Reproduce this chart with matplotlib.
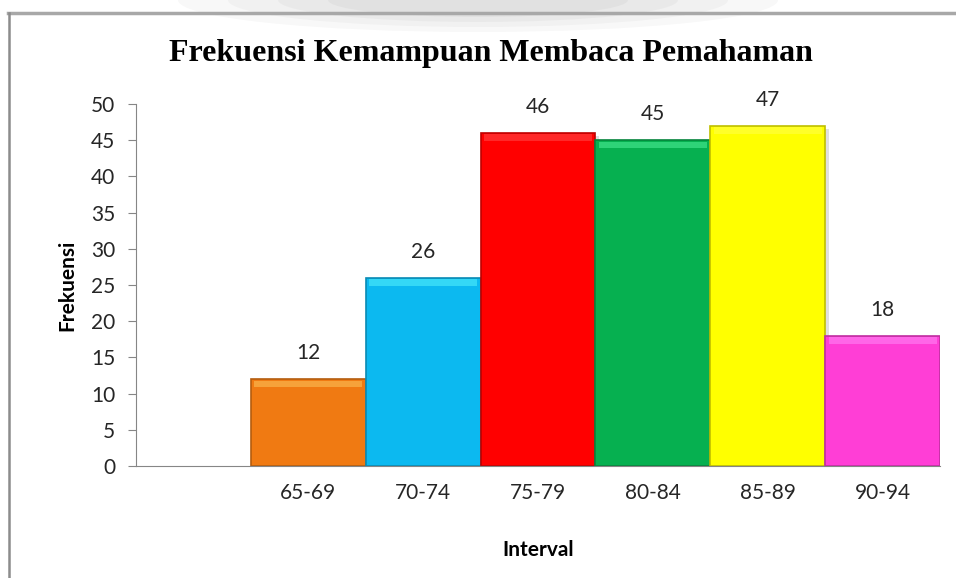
import matplotlib
matplotlib.use("Agg")
from matplotlib import pyplot
from matplotlib.patches import Ellipse
import matplotlib.colors as mcolors

# data
intervals = ['', '65-69', '70-74', '75-79', '80-84', '85-89', '90-94']
counts = [0, 12, 26, 46, 45, 47, 18]
bar_colors = ['#ffffff', '#f07a12', '#0cb9f0', '#ff0000', '#06b050', '#ffff00', '#ff3ed6']
y_ticks = list(range(0, 51, 5))

pyplot.rcParams['font.family'] = ['Lato', 'DejaVu Sans']

figure = pyplot.figure(figsize=(9.56, 5.78), dpi=100)
W, H = 956, 578

# faint grey glow behind the top border
for k, a in enumerate([0.06, 0.06, 0.07, 0.08]):
    figure.patches.append(Ellipse((478 / W, 1 - 0 / H), (600 - 100 * k) / W, (64 - 10 * k) / H,
                                  transform=figure.transFigure, color='#8a8a8a',
                                  alpha=a, lw=0, zorder=0))
# frame lines (top and left)
figure.add_artist(pyplot.Line2D([8 / W, 1], [1 - 13 / H, 1 - 13 / H], transform=figure.transFigure,
                                color='#a8a8a8', lw=2.5))
figure.add_artist(pyplot.Line2D([9 / W, 9 / W], [0, 1 - 13 / H], transform=figure.transFigure,
                                color='#8c8c8c', lw=1.8))

ax = figure.add_axes([136 / W, (578 - 466) / H, (940 - 136) / W, (466 - 104) / H])

x = range(len(intervals))
for i, (val, col) in enumerate(zip(counts, bar_colors)):
    if val == 0:
        continue
    dark = [c * 0.75 for c in mcolors.to_rgb(col)]
    light = [min(1, c + 0.35) for c in mcolors.to_rgb(col)]
    # soft shadow
    ax.bar(i + 0.03, val, width=1.0, bottom=-0.4, color='#000000', alpha=0.12, lw=0, zorder=1)
    ax.bar(i, val, width=1.0, color=col, edgecolor=dark, lw=1.2, zorder=2)
    # bevel highlight at the top of the bar
    ax.bar(i, 0.9, width=0.94, bottom=val - 1.1, color=light, alpha=0.45, lw=0, zorder=3)
    ax.text(i, val + 2.2, str(val), ha='center', va='bottom', fontsize=15, color='#262626')

ax.set_xlim(-0.5, len(intervals) - 0.5)
ax.set_ylim(0, 50)
ax.set_yticks(y_ticks)
ax.set_xticks(list(x))
ax.set_xticklabels(intervals)
ax.tick_params(axis='y', labelsize=15, length=6, color='#868686', pad=9, labelcolor='#262626')
ax.tick_params(axis='x', labelsize=15, length=0, pad=12, labelcolor='#262626')

for side in ['top', 'right']:
    ax.spines[side].set_visible(False)
for side in ['left', 'bottom']:
    ax.spines[side].set_color('#868686')

ax.set_ylabel('Frekuensi', fontsize=15, fontweight='bold', labelpad=10)
ax.set_xlabel('Interval', fontsize=15, fontweight='bold', labelpad=27)

figure.text(491 / W, 1 - 53 / H, 'Frekuensi Kemampuan Membaca Pemahaman', ha='center', va='center',
            fontsize=23, fontweight='bold', family='Liberation Serif')

figure.savefig('out.png', dpi=100)
